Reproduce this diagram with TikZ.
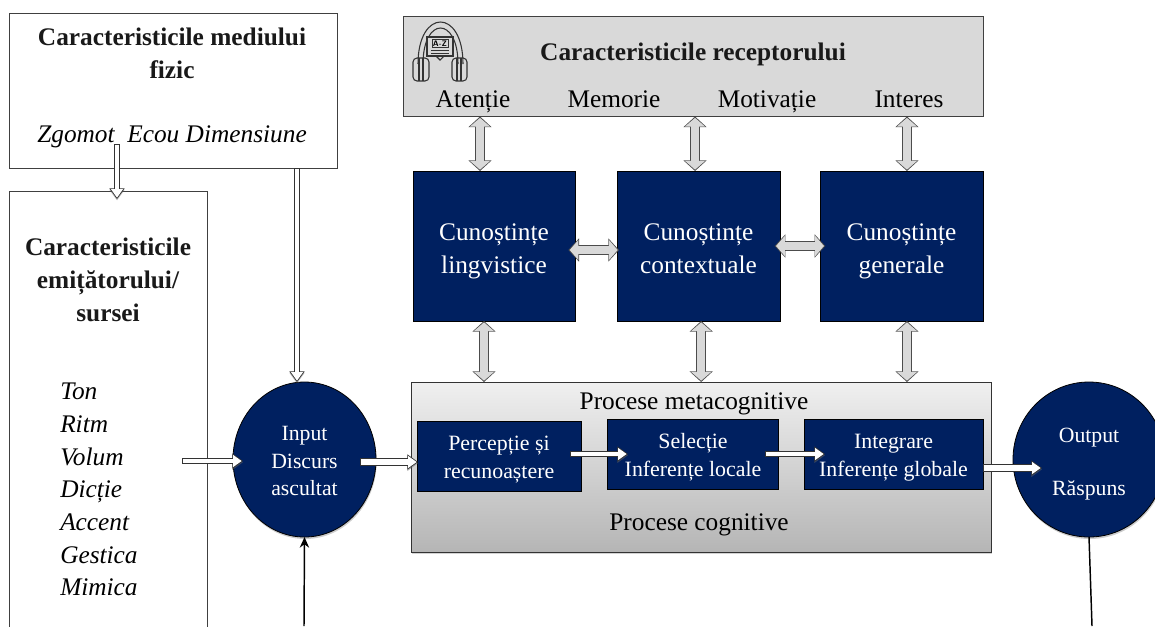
\documentclass[tikz,border=0pt]{standalone}
\usepackage{fontspec}
\setmainfont{Liberation Serif}
\usetikzlibrary{arrows.meta, calc, shadows, shapes.geometric}
\definecolor{navy}{HTML}{002060}
\definecolor{panel}{HTML}{D9D9D9}
\newcommand{\sustext}[1]{\rule{0pt}{#1}}
\tikzset{
	plainbox/.style={draw=black!75, fill=white, line width=0.7pt, inner sep=0pt, outer sep=0pt, align=center},
	bluebox/.style={draw=black, fill=navy, text=white, line width=0.6pt, inner sep=0pt, outer sep=0pt, align=center, font=\fontsize{19}{24.75}\selectfont},
	smallbox/.style={bluebox, font=\fontsize{16.4}{21}\selectfont},
	bluecircle/.style={bluebox, ellipse, font=\fontsize{16.3}{20.6}\selectfont, drop shadow={shadow xshift=0.5pt, shadow yshift=-1.5pt, opacity=0.4}},
	bigtext/.style={font=\fontsize{19}{24}\selectfont, inner sep=0pt, align=center, anchor=base},
	headtext/.style={font=\fontsize{19}{24.75}\selectfont\bfseries, inner sep=0pt, align=center, text=black!90},
	blockone/.style={line width=#1+1.2pt, draw=black!80, -{Triangle[length=8pt,width=11pt]},
		preaction={draw=black!60, opacity=0.5, transform canvas={yshift=-1pt}},
		postaction={draw=white, line width=#1, shorten <=0.6pt, shorten >=1pt, -{Triangle[length=6.5pt,width=8.8pt]}}},
	blockone/.default=3.2pt,
	blockboth/.style={line width=7.5pt, draw=black!70, {Triangle[length=8pt,width=17pt]}-{Triangle[length=8pt,width=17pt]},
		postaction={draw=panel, line width=6.2pt, shorten <=1pt, shorten >=1pt, {Triangle[length=6.6pt,width=14.8pt]}-{Triangle[length=6.6pt,width=14.8pt]}}},
	icon/.style={draw=black!80, line width=0.8pt},
}
\begin{document}
\begin{tikzpicture}[x=0.75pt, y=-0.75pt]
	\useasboundingbox (0,0) rectangle (1155,626);
	\clip (0,0) rectangle (1155,626);

	\node[plainbox, minimum width=246pt, minimum height=116.25pt] (fizic) at (173,90.5) {};
	\node[plainbox, minimum width=148.5pt, minimum height=345pt] (sursa) at (108,421) {};
	\node[plainbox, fill=panel, minimum width=435pt, minimum height=75pt] (recep) at (693,66.5) {};

	\node[headtext] (fizictitlu) at (172,53) {Caracteristicile mediului\\fizic};
	\node[bigtext, font=\fontsize{19}{24}\selectfont\itshape] (fizicdate) at (172,142.5) {Zgomot\ \ Ecou Dimensiune};
	\node[headtext] (sursatitlu) at (108,280) {Caracteristicile\\emițătorului/\\sursei};
	\node[bigtext, font=\fontsize{19}{24.5}\selectfont\itshape, align=left, anchor=north west] (sursadate) at (60,383) {Ton\\Ritm\\Volum\\Dicție\\Accent\\Gestica\\Mimica};

	\node[headtext, anchor=base] (receptitlu) at (693,60) {Caracteristicile receptorului};
	\node[bigtext] (atentie) at (473,107) {Atenție};
	\node[bigtext] (memorie) at (614,107) {Memorie};
	\node[bigtext] (motivatie) at (767,107) {Motivație};
	\node[bigtext] (interes) at (909,107) {Interes};

	\begin{scope}[icon]
		\draw (418,64) .. controls (418,8) and (463,8) .. (463,64);
		\draw (423,64) .. controls (423,16) and (458,16) .. (458,64);
		\draw[rounded corners=3pt] (413,58) rectangle (429,81);
		\draw[rounded corners=3pt] (452,58) rectangle (467,81);
		\draw (419,58) -- (419,81) (423,58) -- (423,81) (457,58) -- (457,81) (461,58) -- (461,81);
		\draw[fill=panel] (427,37) rectangle (453,56);
		\draw (436,56) -- (440,60) -- (444,56);
		\draw[line width=0.5pt] (431,50) -- (449,50) (431,53) -- (449,53);
		\node[inner sep=0.8pt, draw, line width=0.5pt, font=\fontsize{6}{6}\selectfont\bfseries\sffamily] (az) at (440,43.5) {A-Z};
	\end{scope}

	\node[bluebox, minimum width=121.5pt, minimum height=112.5pt] (lingv) at (494,246) {\sustext{23.5pt}Cunoștințe\\lingvistice\strut};
	\node[bluebox, minimum width=122.25pt, minimum height=112.5pt] (context) at (698.5,246) {\sustext{23.5pt}Cunoștințe\\contextuale\strut};
	\node[bluebox, minimum width=122.25pt, minimum height=112.5pt] (general) at (901.5,246) {\sustext{23.5pt}Cunoștințe\\generale\strut};

	\node[plainbox, draw=black!80, top color=black!6, bottom color=black!29, minimum width=435pt, minimum height=127.5pt,
		drop shadow={shadow xshift=1pt, shadow yshift=-1.5pt, opacity=0.35}] (proces) at (701,467) {};
	\node[bigtext] (meta) at (694,409) {Procese metacognitive};
	\node[bigtext] (cogn) at (699,530) {Procese cognitive};

	\node[smallbox, minimum width=123pt, minimum height=52.5pt] (percep) at (499,456) {\sustext{18.5pt}Percepție și\\recunoaștere\strut};
	\node[smallbox, minimum width=128.25pt, minimum height=52.5pt] (select) at (693,454) {\sustext{18.5pt}Selecție\\Inferențe locale\strut};
	\node[smallbox, minimum width=134.25pt, minimum height=52.5pt] (integr) at (893.5,454) {\sustext{18.5pt}Integrare\\Inferențe globale\strut};

	\node[bluecircle, minimum width=107.25pt, minimum height=116.25pt] (input) at (304.5,459.5) {\sustext{19.5pt}Input\\Discurs\\ascultat\strut};
	\node[bluecircle, minimum width=114pt, minimum height=116.25pt, font=\fontsize{16.3}{39.5}\selectfont] (output) at (1089,459.5) {\sustext{26pt}Output\\Răspuns\strut};

	\coordinate (zgomot) at (117,144);
	\coordinate (jos1) at (304,626);
	\coordinate (jos2) at (1092,626);
	\coordinate (volum) at (182,461);
	\coordinate (volumin) at (243,461);
	\coordinate (inputout) at (360,462);
	\coordinate (percepin) at (418,462);
	\coordinate (percepout) at (570,454);
	\coordinate (selectin) at (628,454);
	\coordinate (selectout) at (765,454);
	\coordinate (integrin) at (825,454);
	\coordinate (integrout) at (983,468);
	\coordinate (outputin) at (1042,468);

	\draw[blockone=3.6pt] (zgomot) -- ([yshift=-6pt]sursa.north -| zgomot);
	\draw[blockone=3.6pt] ([xshift=93pt]fizic.south) -- ([xshift=93pt]fizic.south |- input.north);
	\draw[blockone] (volum) -- (volumin);
	\draw[blockone=4.6pt] (inputout) -- (percepin);
	\draw[blockone] (percepout) -- (selectin);
	\draw[blockone] (selectout) -- (integrin);
	\draw[blockone=4.6pt] (integrout) -- (outputin);

	\draw[blockboth] ([xshift=-10.5pt]lingv.north) -- ([xshift=-10.5pt]lingv.north |- recep.south);
	\draw[blockboth] ([xshift=-2.6pt]context.north) -- ([xshift=-2.6pt]context.north |- recep.south);
	\draw[blockboth] ([xshift=4.1pt]general.north) -- ([xshift=4.1pt]general.north |- recep.south);
	\draw[blockboth] ([xshift=-5pt, yshift=-3pt]lingv.east) -- ([xshift=1.5pt, yshift=-3pt]context.west);
	\draw[blockboth] ([xshift=-4pt]context.east) -- ([xshift=4pt]general.west);
	\draw[blockboth] ([xshift=-7.5pt]lingv.south) -- ([xshift=-7.5pt]lingv.south |- proces.north);
	\draw[blockboth] ([xshift=2pt]context.south) -- ([xshift=2pt]context.south |- proces.north);
	\draw[blockboth] ([xshift=4.1pt]general.south) -- ([xshift=4.1pt]general.south |- proces.north);

	\draw[line width=1.1pt, black, -{Stealth[length=8pt,width=7pt]}] (jos1) -- (input.south);
	\draw[line width=1.1pt, black] (output.south) -- (jos2);
\end{tikzpicture}
\end{document}
